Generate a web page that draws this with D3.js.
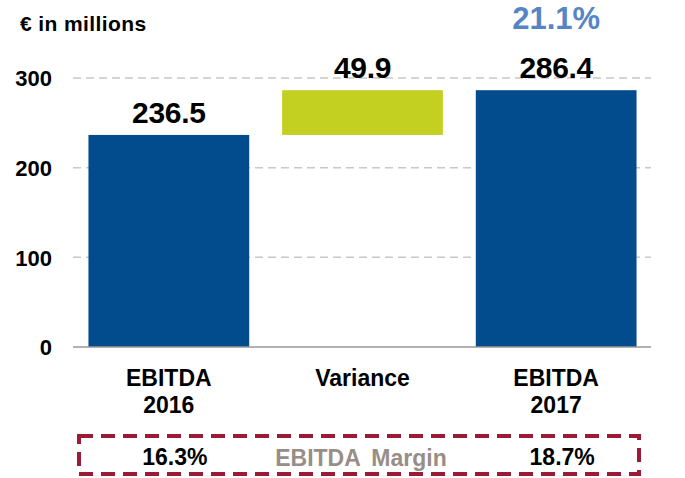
<!DOCTYPE html>
<html>
<head>
<meta charset="utf-8">
<script src="https://cdn.jsdelivr.net/npm/d3@7"></script>
<style>
  body { margin: 0; background: #fff; }
  svg text { font-family: "Liberation Sans", Arial, sans-serif; font-weight: bold; }
</style>
</head>
<body>
<svg id="chart" width="685" height="478"></svg>
<script>
// chart data
const categories = ["EBITDA 2016", "Variance", "EBITDA 2017"];
const labelLines = [["EBITDA", "2016"], ["Variance"], ["EBITDA", "2017"]];
const starts = [0, 236.5, 0];
const ends = [236.5, 286.4, 286.4];
const valueLabels = ["236.5", "49.9", "286.4"];
const tickValues = [0, 100, 200, 300];
const margins = ["16.3%", "", "18.7%"];
const targetMargin = "21.1%";

const svg = d3.select("#chart");
const navy = "#024B8D", green = "#C3CF21";

const x = d3.scaleBand()
  .domain(categories)
  .range([72, 653])
  .paddingInner(0.17)
  .paddingOuter(0.085);

const y = d3.scaleLinear().domain([0, 300]).range([347, 78]);
const mid = d => x(d) + x.bandwidth() / 2;

// gridlines
svg.append("g")
  .selectAll("line")
  .data(tickValues.filter(d => d > 0))
  .enter()
  .append("line")
  .attr("x1", 73).attr("x2", 651)
  .attr("y1", d => y(d)).attr("y2", d => y(d))
  .attr("stroke", "#c8c8c8")
  .attr("stroke-width", 1.5)
  .attr("stroke-dasharray", "8,5");

// y axis labels
const yAxis = svg.append("g")
  .attr("transform", "translate(52,0)")
  .call(d3.axisLeft(y).tickValues(tickValues).tickSize(0).tickPadding(0));
yAxis.select(".domain").remove();
yAxis.selectAll("text")
  .attr("font-size", 22)
  .attr("font-family", "Liberation Sans, Arial, sans-serif")
  .attr("font-weight", "bold")
  .attr("fill", "#000")
  .attr("dy", "0.35em");

// bars
svg.append("g")
  .selectAll("rect")
  .data(categories)
  .enter()
  .append("rect")
  .attr("x", d => x(d))
  .attr("width", x.bandwidth())
  .attr("y", (d, i) => y(ends[i]))
  .attr("height", (d, i) => y(starts[i]) - y(ends[i]))
  .attr("fill", (d, i) => i === 1 ? green : navy);

// baseline
svg.append("line")
  .attr("x1", 73).attr("x2", 651)
  .attr("y1", y(0)).attr("y2", y(0))
  .attr("stroke", "#999")
  .attr("stroke-width", 1.5);

// value labels
svg.append("g")
  .selectAll("text")
  .data(categories)
  .enter()
  .append("text")
  .attr("x", mid)
  .attr("y", (d, i) => y(ends[i]) - 12)
  .attr("text-anchor", "middle")
  .attr("font-size", 30)
  .attr("letter-spacing", -0.3)
  .text((d, i) => valueLabels[i]);

// 21.1% above last bar
svg.append("text")
  .attr("x", mid(categories[2]))
  .attr("y", 29)
  .attr("text-anchor", "middle")
  .attr("font-size", 31)
  .attr("fill", "#5585C5")
  .text(targetMargin);

// category labels
const cat = svg.append("g")
  .selectAll("text")
  .data(categories)
  .enter()
  .append("text")
  .attr("x", mid)
  .attr("y", 386)
  .attr("text-anchor", "middle")
  .attr("font-size", 23);
cat.selectAll("tspan")
  .data((d, i) => labelLines[i])
  .enter()
  .append("tspan")
  .attr("x", function () { return d3.select(this.parentNode).attr("x"); })
  .attr("dy", (d, j) => j === 0 ? 0 : 27)
  .text(d => d);

// unit title
svg.append("text")
  .attr("x", 20).attr("y", 31)
  .attr("font-size", 21)
  .attr("letter-spacing", 0.4)
  .text("€ in millions");

// margin box
svg.append("rect")
  .attr("x", 79).attr("y", 436)
  .attr("width", 560).attr("height", 38)
  .attr("fill", "none")
  .attr("stroke", "#9B1B36")
  .attr("stroke-width", 4)
  .attr("stroke-dasharray", "14,8");

svg.append("g")
  .selectAll("text")
  .data(categories)
  .enter()
  .append("text")
  .attr("x", d => mid(d) + 6)
  .attr("y", 465)
  .attr("text-anchor", "middle")
  .attr("font-size", 23)
  .text((d, i) => margins[i]);

svg.append("text")
  .attr("x", 361).attr("y", 466)
  .attr("text-anchor", "middle")
  .attr("font-size", 23)
  .attr("fill", "#978E88")
  .attr("word-spacing", 5)
  .text("EBITDA Margin");
</script>
</body>
</html>
